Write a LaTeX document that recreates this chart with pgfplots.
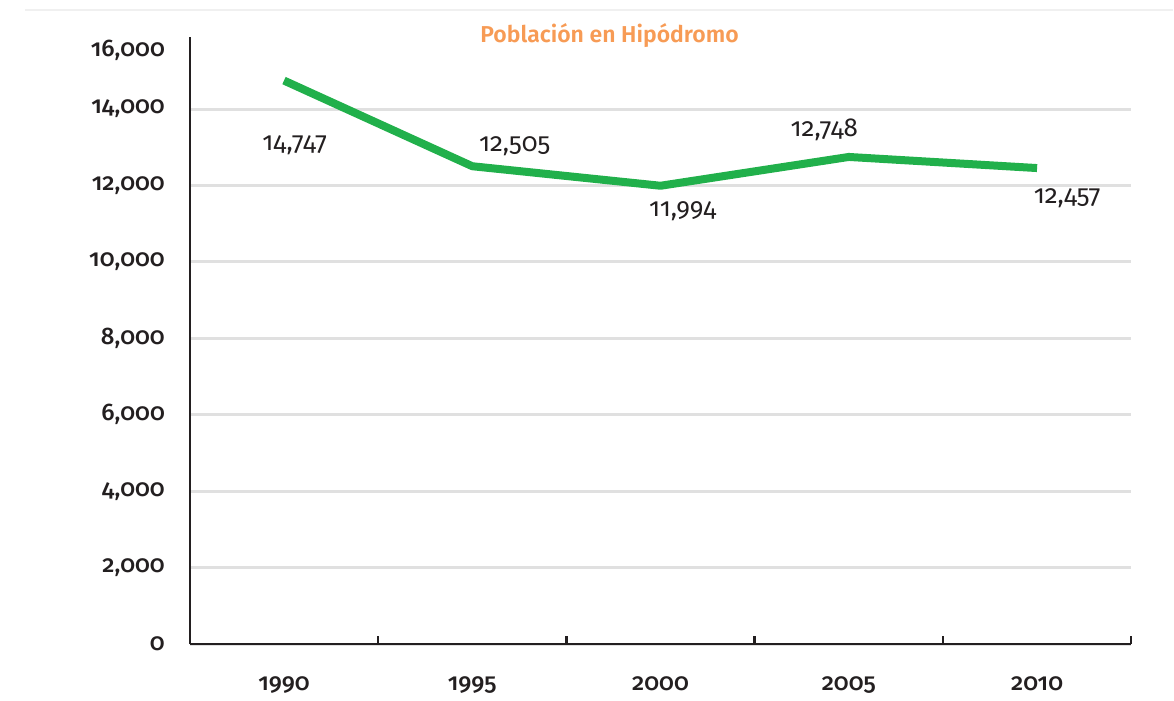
\documentclass[border=0pt]{standalone}
\usepackage{fontspec}
\setmainfont{Fira Sans}[Numbers=OldStyle]
\newfontfamily\medfont{Fira Sans Medium}[Numbers=OldStyle]
\newfontfamily\semifont{Fira Sans SemiBold}
\usepackage{pgfplots}
\pgfplotsset{compat=1.18}
\definecolor{lineg}{HTML}{21B04B}
\definecolor{ttl}{HTML}{F79B55}
\definecolor{txt}{HTML}{231F20}
\definecolor{grd}{HTML}{E0E0E0}
\begin{document}
\begin{tikzpicture}[x=1pt,y=1pt]
\path (0,0) rectangle (587,349);
\draw[color=black!6, line width=0.8pt] (12.5,344) -- (587,344);
\node[font=\semifont\fontsize{11.5}{13}\selectfont, text=ttl] at (305,331) {Población en Hipódromo};
\begin{axis}[
  at={(95pt,26.75pt)}, anchor=south west,
  scale only axis, width=471pt, height=303.6pt,
  xmin=-0.5, xmax=4.5, ymin=0, ymax=15880,
  axis x line*=bottom, axis y line*=left,
  axis line style={-, line width=1.2pt, color=txt},
  xtick={0,1,2,3,4},
  xticklabels={1990,1995,2000,2005,2010},
  minor xtick={0.5,1.5,2.5,3.5,4.5},
  major tick length=0pt,
  minor tick length=4pt,
  tick align=inside,
  minor x tick style={line width=1.2pt, color=txt},
  ytick={0,2000,...,14000},
  extra y ticks={15880},
  extra y tick labels={16{,}000},
  extra y tick style={grid=none, yticklabel style={yshift=-6.5pt}},
  ytick style={draw=none},
  ymajorgrids,
  major grid style={line width=1.5pt, color=grd},
  /pgf/number format/assume math mode=true,
  /pgf/number format/1000 sep={,},
  scaled y ticks=false,
  tick label style={font=\medfont\fontsize{12}{14}\selectfont, text=txt},
  xticklabel style={yshift=-13pt},
  yticklabel style={xshift=-9pt},
  clip=false,
]
\addplot[lineg, line width=4pt, line join=round] coordinates {
  (0,14747) (1,12505) (2,11994) (3,12748) (4,12457)
};
\begin{scope}[every node/.style={font=\fontsize{13}{15}\selectfont, text=txt}]
\node at (axis cs:0.057,13059) {14,747};
\node at (axis cs:1.225,13033) {12,505};
\node at (axis cs:2.117,11333) {11,994};
\node at (axis cs:2.870,13451) {12,748};
\node at (axis cs:4.160,11673) {12,457};
\end{scope}
\end{axis}
\end{tikzpicture}
\end{document}
